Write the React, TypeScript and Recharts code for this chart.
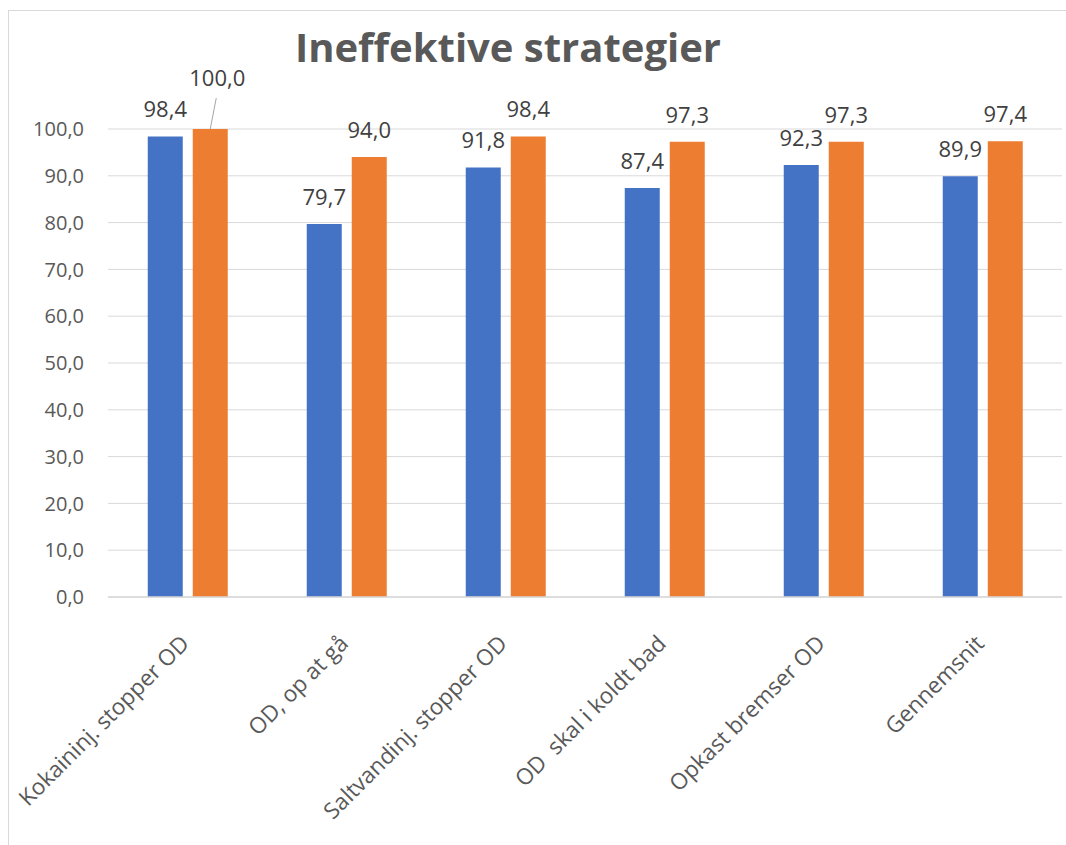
import React from 'react';
import { BarChart, Bar, XAxis, YAxis, CartesianGrid, LabelList } from 'recharts';

const categories = [
  'Kokaininj. stopper OD',
  'OD, op at gå',
  'Saltvandinj. stopper OD',
  'OD  skal i koldt bad',
  'Opkast bremser OD',
  'Gennemsnit',
];
const foerValues = [98.4, 79.7, 91.8, 87.4, 92.3, 89.9];
const efterValues = [100.0, 94.0, 98.4, 97.3, 97.3, 97.4];
const yTicks = [0, 10, 20, 30, 40, 50, 60, 70, 80, 90, 100];

const data = categories.map((name, i) => ({
  name,
  foer: foerValues[i],
  efter: efterValues[i],
}));

const FONT = '"Open Sans", "DejaVu Sans", sans-serif';

// Danish number format, one decimal with comma
const fmt = (v: number) => v.toFixed(1).replace('.', ',');

const XTick = ({ x, y, payload }: any) => (
  <g transform={`translate(${x + 3},${y + 40})`}>
    <text
      textAnchor="end"
      transform="rotate(-45)"
      fill="#595959"
      fontSize={22.5}
      fontFamily={FONT}
      style={{ whiteSpace: 'pre' }}
    >
      {payload.value}
    </text>
  </g>
);

// label that sits at the top of the plot gets lifted with a leader line
const EfterLabel = (props: any) => {
  const { x, y, width, value } = props;
  const cx = x + width / 2;
  if (value >= 100) {
    return (
      <g>
        <line x1={cx} y1={y} x2={cx + 6} y2={y - 31} stroke="#a6a6a6" strokeWidth={1} />
        <text x={cx + 7} y={y - 43} textAnchor="middle" fill="#404040" fontSize={22} fontFamily={FONT}>
          {fmt(value)}
        </text>
      </g>
    );
  }
  return (
    <text x={cx} y={y - 19} textAnchor="middle" fill="#404040" fontSize={22} fontFamily={FONT}>
      {fmt(value)}
    </text>
  );
};

const FoerLabel = (props: any) => {
  const { x, y, width, value } = props;
  return (
    <text x={x + width / 2} y={y - 19} textAnchor="middle" fill="#404040" fontSize={22} fontFamily={FONT}>
      {fmt(value)}
    </text>
  );
};

export default function App() {
  return (
    <div
      style={{
        position: 'fixed',
        left: 8,
        top: 10,
        width: 1058,
        height: 835,
        borderLeft: '1px solid #d9d9d9',
        borderTop: '1px solid #d9d9d9',
        background: '#fff',
        fontFamily: FONT,
      }}
    >
      <div
        style={{
          position: 'absolute',
          left: 0,
          width: 998,
          top: 8,
          textAlign: 'center',
          fontSize: 40,
          fontWeight: 700,
          color: '#595959',
        }}
      >
        Ineffektive strategier
      </div>
      <BarChart
        width={1058}
        height={835}
        data={data}
        margin={{ top: 118, right: 5, left: 39, bottom: 9 }}
        barCategoryGap="25%"
        barGap={10}
        style={{ overflow: 'visible' }}
      >
        <CartesianGrid vertical={false} stroke="#d9d9d9" />
        <XAxis
          dataKey="name"
          interval={0}
          height={240}
          tickLine={false}
          axisLine={{ stroke: '#d9d9d9', strokeWidth: 1.5 }}
          tick={<XTick />}
        />
        <YAxis
          width={60}
          domain={[0, 100]}
          ticks={yTicks}
          tickFormatter={fmt}
          axisLine={false}
          tickLine={false}
          tickSize={0}
          tickMargin={24}
          tick={{ fill: '#595959', fontSize: 20, fontFamily: FONT }}
        />
        <Bar dataKey="foer" fill="#4472c4" isAnimationActive={false}>
          <LabelList dataKey="foer" content={<FoerLabel />} />
        </Bar>
        <Bar dataKey="efter" fill="#ed7d31" isAnimationActive={false}>
          <LabelList dataKey="efter" content={<EfterLabel />} />
        </Bar>
      </BarChart>
    </div>
  );
}
